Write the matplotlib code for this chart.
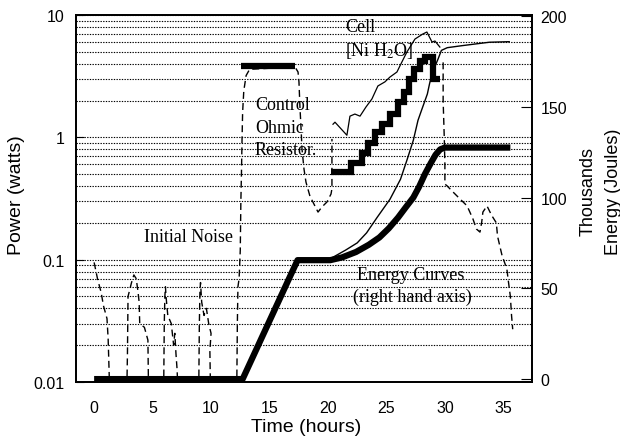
import numpy as np
import matplotlib
matplotlib.use("Agg")
import matplotlib.pyplot as plt
from matplotlib.ticker import FixedLocator, NullFormatter

plt.rcParams['font.family'] = ['Liberation Sans', 'DejaVu Sans']
plt.rcParams['mathtext.fontset'] = 'stix'

# initial noise (dashed, left axis, watts)
noise_t = [0.0, 0.3, 0.6, 0.8, 1.1, 1.2, 1.3, 1.35, np.nan,
           2.8, 2.85, 2.9, 3.2, 3.4, 3.6, 3.75, 3.85, 3.9, 4.3, 4.6, 4.65, np.nan,
           5.95, 6.0, 6.05, 6.1, 6.15, 6.3, 6.6, 6.8, 6.9, 7.0, 7.1, 7.15, np.nan,
           8.95, 9.0, 9.05, 9.1, 9.2, 9.4, 9.6, 9.8, 10.0, 9.9, 9.95]
noise_p = [0.095, 0.069, 0.054, 0.042, 0.033, 0.0225, 0.0106, 0.008, np.nan,
           0.009, 0.017, 0.05, 0.065, 0.075, 0.07, 0.055, 0.045, 0.03, 0.028, 0.022, 0.009, np.nan,
           0.009, 0.03, 0.05, 0.06, 0.05, 0.035, 0.03, 0.02, 0.025, 0.017, 0.0125, 0.009, np.nan,
           0.009, 0.03, 0.055, 0.065, 0.045, 0.035, 0.04, 0.03, 0.025, 0.018, 0.009]

# control ohmic resistor power trace (dashed)
ctrl_t = [12.2, 12.25, 12.3, 12.4, 12.5, 12.55, 12.6, 12.65, 12.7, 12.8, 13.0, 13.3,
          17.18, 17.44, 17.52, 17.6, 17.7, 17.78, 17.95, 18.12, 18.46, 18.89, 19.15,
          19.49, 19.91, 20.26, 20.34, 20.34]
ctrl_p = [0.009, 0.03, 0.06, 0.07, 0.12, 0.3, 0.5, 0.95, 1.6, 2.4, 3.2, 3.6,
          3.76, 3.42, 2.83, 1.80, 1.17, 0.80, 0.55, 0.43, 0.33, 0.274, 0.245,
          0.27, 0.296, 0.344, 0.38, 0.97]

# control input power level (thick)
ctrl_lvl_t = [12.6, 17.2]
ctrl_lvl_p = [3.85, 3.85]

# cell power steps (thick)
cell_step_t = [20.3, 22.0, 22.9, 23.4, 24.0, 24.6, 25.3, 26.0, 26.5, 26.9,
               27.4, 27.9, 28.3, 29.0, 29.6]
cell_step_p = [0.52, 0.62, 0.75, 0.90, 1.10, 1.29, 1.55, 1.94, 2.35, 3.0,
               3.6, 4.2, 4.5, 3.0, 3.0]

# cell power trace (thin)
cell_t = [20.43, 20.6, 21.62, 21.88, 22.3, 22.74, 23.25, 23.76, 24.27, 24.87,
          25.3, 25.9, 26.15, 26.75, 27.44, 28.12, 28.46, 28.9, 29.15, 29.57]
cell_p = [1.28, 1.33, 1.04, 1.49, 1.55, 1.49, 1.77, 2.06, 2.63, 2.84,
          3.11, 3.42, 3.83, 4.98, 6.36, 7.0, 7.26, 6.01, 6.13, 5.47]

# cell power after the run (dashed)
tail_t = [29.85, 29.85, 29.95, 30.0, 30.0, 30.2, 30.7, 31.3, 31.9, 32.4, 32.7,
          33.0, 33.15, 33.25, 33.6, 34.0, 34.4, 34.5, 34.7, 34.9, 35.1, 35.3,
          35.4, 35.6, 35.7, 35.8]
tail_p = [4.1, 2.0, 0.97, 0.6, 0.415, 0.40, 0.357, 0.313, 0.275, 0.215, 0.178,
          0.168, 0.203, 0.245, 0.275, 0.23, 0.20, 0.156, 0.129, 0.107, 0.095, 0.084,
          0.07, 0.05, 0.035, 0.027]

# energy curves (right axis, thousands of joules)
ctrl_e_t = [0, 12.7, 17.4, 20.2, 21.2, 22.4, 23.5, 24.4, 25.2, 26.0, 26.7, 27.3,
            27.8, 28.3, 28.8, 29.2, 29.6, 30.0, 35.6]
ctrl_e = [0, 0, 65.5, 65.5, 67, 70, 74, 78, 83, 89, 95, 100,
          106, 113, 119, 123.5, 126.5, 127.5, 127.5]

cell_e_t = [20.4, 21.5, 22.5, 23.3, 24.2, 25.3, 26.2, 26.75, 27.3, 27.7, 28.0,
            28.5, 28.7, 29.0, 29.4, 29.7, 30.2, 31.45, 32.8, 33.8, 35.5]
cell_e = [67, 71, 75, 80.5, 89, 99, 110, 120.5, 131.5, 142.5, 148,
          157, 163, 170, 176, 181, 182.5, 183.6, 184.7, 185.5, 185.8]

x_ticks = [0, 5, 10, 15, 20, 25, 30, 35]
p_ticks = [0.01, 0.1, 1, 10]
p_labels = ['0.01', '0.1', '1', '10']
e_ticks = [0, 50, 100, 150, 200]

fig = plt.figure(figsize=(6.2, 4.39), dpi=100)
ax = fig.add_axes([76 / 620, 1 - 383 / 439, 456 / 620, 367 / 439])
ax2 = ax.twinx()

dash = (0, (5, 3))
ax.plot(noise_t, noise_p, color='black', lw=1.0, ls=dash)
ax.plot(ctrl_t, ctrl_p, color='black', lw=1.0, ls=dash)
ax.plot(tail_t, tail_p, color='black', lw=1.0, ls=dash)
ax.plot(ctrl_lvl_t, ctrl_lvl_p, color='black', lw=4.5, solid_capstyle='butt')
ax.step(cell_step_t, cell_step_p, where='post', color='black', lw=4.5,
        solid_capstyle='butt', solid_joinstyle='miter')
ax.plot(cell_t, cell_p, color='black', lw=0.9)

ax2.plot(ctrl_e_t, ctrl_e, color='black', lw=4.5, solid_capstyle='butt')
ax2.plot(cell_e_t, cell_e, color='black', lw=1.0)

ax.set_yscale('log')
ax.set_ylim(0.01, 10)
ax.set_xlim(-1.55, 37.45)
ax.set_xticks(x_ticks)
ax.yaxis.set_major_locator(FixedLocator(p_ticks))
ax.set_yticklabels(p_labels)
minors = [m * d for d in [0.01, 0.1, 1] for m in range(2, 10)]
ax.yaxis.set_minor_locator(FixedLocator(minors))
ax.yaxis.set_minor_formatter(NullFormatter())
ax.grid(axis='y', which='both', color='black', lw=0.8, ls=(0, (1.2, 1.2)))
ax.set_axisbelow(True)

ax2.set_ylim(-1.6, 200.5)
ax2.set_yticks(e_ticks)

ax.tick_params(axis='y', which='major', direction='in', length=6, pad=8, labelsize=11.5)
ax.tick_params(axis='y', which='minor', length=0)
ax.tick_params(axis='x', length=0, pad=13, labelsize=11.5)
ax2.tick_params(axis='y', direction='in', length=8, pad=6, labelsize=11.5)

for a in (ax, ax2):
    for s in a.spines.values():
        s.set_linewidth(1.3)
        s.set_color('black')

serif = ['Liberation Serif', 'DejaVu Serif']
tkw = dict(family=serif, fontsize=13, color='black', va='center')
ax.text(21.45, 8.1, 'Cell', **tkw)
ax.text(21.45, 5.18, r'[Ni H$_2$O]', **tkw)
ax.text(13.76, 1.84, 'Control', **tkw)
ax.text(13.76, 1.21, 'Ohmic', **tkw)
ax.text(13.76, 0.80, 'Resistor.', **tkw)
ax.text(8.03, 0.156, 'Initial Noise', ha='center', **tkw)
ax.text(22.5, 0.0762, 'Energy Curves', **tkw)
ax.text(22.1, 0.0503, '(right hand axis)', **tkw)

fig.text(17 / 620, 1 - 195 / 439, 'Power (watts)', rotation=90, fontsize=14,
         ha='center', va='center')
fig.text(306 / 620, 1 - 428 / 439, 'Time (hours)', fontsize=14,
         ha='center', va='center')
fig.text(588 / 620, 1 - 192 / 439, 'Thousands', rotation=90, fontsize=13,
         ha='center', va='center')
fig.text(613 / 620, 1 - 192 / 439, 'Energy (Joules)', rotation=90, fontsize=13,
         ha='center', va='center')

fig.savefig('out.png', dpi=100)
